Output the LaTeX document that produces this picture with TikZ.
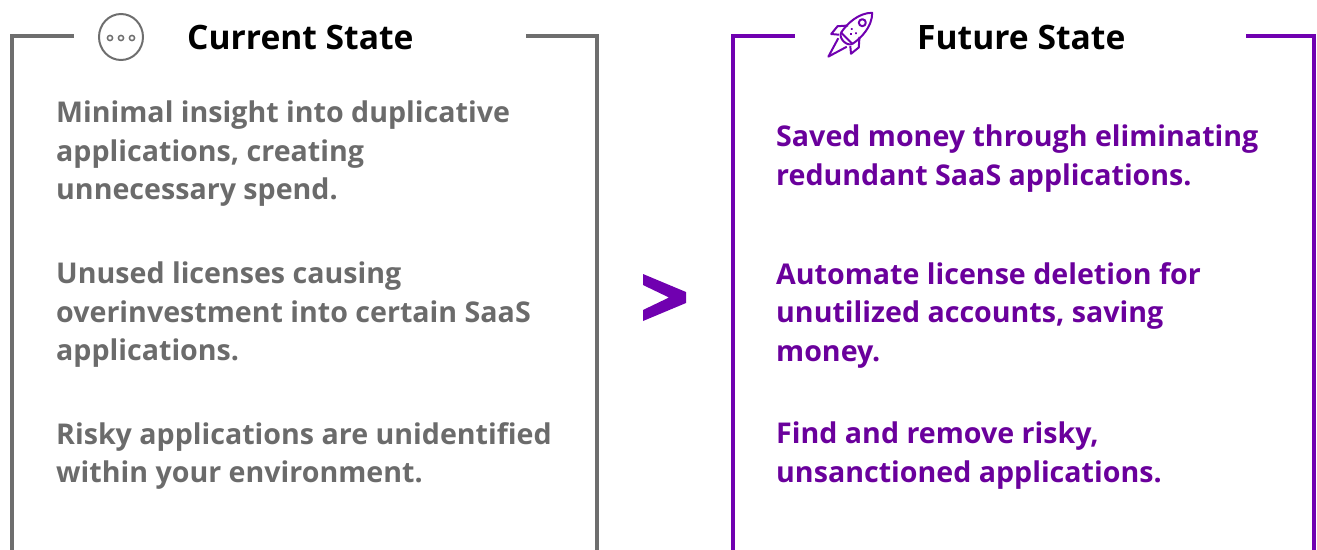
\documentclass[tikz,border=0pt]{standalone}
\usepackage{fontspec}
\setmainfont{Open Sans}
\usepackage{tikz}

\definecolor{boxgray}{HTML}{6E6E6E}
\definecolor{txtgray}{HTML}{6B6B6B}
\definecolor{accpurple}{HTML}{7000B0}
\definecolor{txtpurple}{HTML}{6A009C}

\tikzset{
	pointtext/.style={anchor=north west, inner sep=0pt, align=left,
		font=\fontsize{28.6}{38.5}\selectfont\bfseries},
	titletext/.style={anchor=base west, inner sep=0pt,
		font=\fontsize{33.6}{38}\selectfont\bfseries},
	frameline/.style={line width=4pt, line cap=rect},
}

\begin{document}
\begin{tikzpicture}[x=1pt,y=-1pt]
	\useasboundingbox (0,0) rectangle (1317,549);

	% current state frame
	\draw[frameline, boxgray] (72,36) -- (12,36) -- (12,560);
	\draw[frameline, boxgray] (528,36) -- (597,36) -- (597,560);
	\draw[boxgray, line width=2pt] (121,37) ellipse [x radius=22, y radius=23];
	\foreach \dx in {-11,0,11}
		\draw[boxgray, line width=1.5pt] (121+\dx,38) circle (2.6);
	\node[titletext] (curtitle) at (187,49) {Current State};

	\node[pointtext, txtgray] (cur1) at (56,101) {Minimal insight into duplicative\\applications, creating\\unnecessary spend.};
	\node[pointtext, txtgray] (cur2) at (56,262) {Unused licenses causing\\overinvestment into certain SaaS\\applications.};
	\node[pointtext, txtgray] (cur3) at (56,422) {Risky applications are unidentified\\within your environment.};

	% chevron
	\fill[accpurple] (643,274) -- (686,292) -- (686,303) -- (643,321) -- (643,310)
		-- (669,297.5) -- (643,285) -- cycle;

	% future state frame
	\draw[frameline, accpurple] (793,36) -- (733,36) -- (733,560);
	\draw[frameline, accpurple] (1248,36) -- (1314,36) -- (1314,560);
	\begin{scope}[shift={(851,34)}, rotate=-45, accpurple, line width=2pt, line join=round]
		\draw (0,-30) .. controls (10,-20) and (10,-4) .. (8,6) -- (-8,6)
			.. controls (-10,-4) and (-10,-20) .. (0,-30) -- cycle;
		\draw (0,-16) circle (3.5);
		\fill (-3,-4) circle (1.3) (3,-4) circle (1.3) (0,0) circle (1.3);
		\draw (8,-4) -- (15,4) -- (14,14) -- (8,9);
		\draw (-8,-4) -- (-15,4) -- (-14,14) -- (-8,9);
		\draw (-8,6) .. controls (-6,12) and (6,12) .. (8,6);
		\draw (-6,12) -- (0,32) -- (6,12);
	\end{scope}
	\node[titletext] (futtitle) at (917,49) {Future State};

	\node[pointtext, txtpurple] (fut1) at (776,125) {Saved money through eliminating\\redundant SaaS applications.};
	\node[pointtext, txtpurple] (fut2) at (776,262) {Automate license deletion for\\unutilized accounts, saving\\money.};
	\node[pointtext, txtpurple] (fut3) at (776,422) {Find and remove risky,\\unsanctioned applications.};
\end{tikzpicture}
\end{document}
